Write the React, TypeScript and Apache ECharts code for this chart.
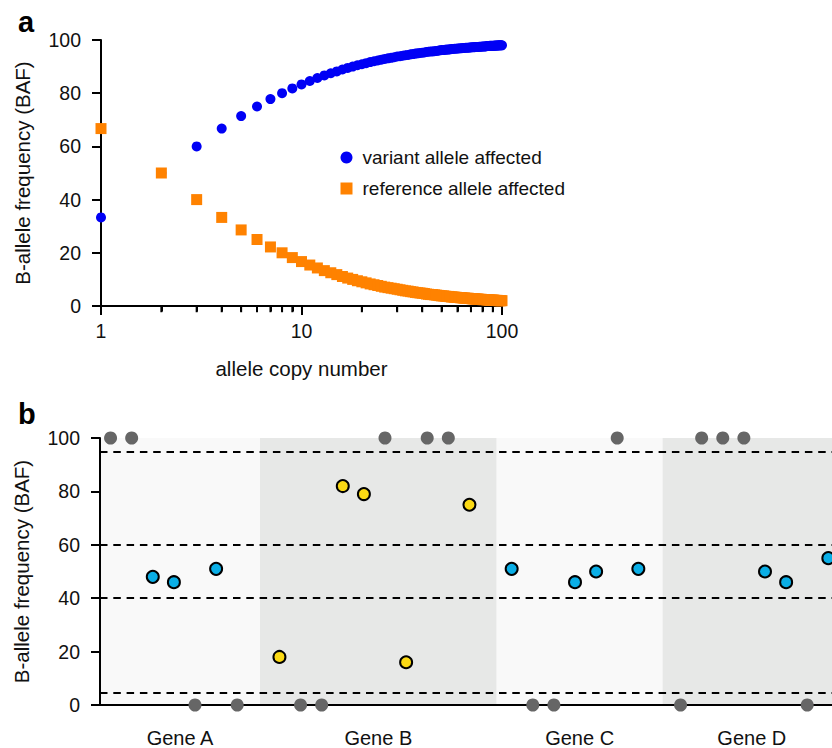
import React, { useEffect, useRef } from "react";
import * as echarts from "echarts";

// ---------- Panel a data ----------
const copyNumbers = [
  1, 2, 3, 4, 5, 6, 7, 8, 9, 10, 11, 12, 13, 14, 15, 16, 17, 18, 19, 20,
  21, 22, 23, 24, 25, 26, 27, 28, 29, 30, 31, 32, 33, 34, 35, 36, 37, 38, 39, 40,
  41, 42, 43, 44, 45, 46, 47, 48, 49, 50, 51, 52, 53, 54, 55, 56, 57, 58, 59, 60,
  61, 62, 63, 64, 65, 66, 67, 68, 69, 70, 71, 72, 73, 74, 75, 76, 77, 78, 79, 80,
  81, 82, 83, 84, 85, 86, 87, 88, 89, 90, 91, 92, 93, 94, 95, 96, 97, 98, 99, 100,
];
const variantBAF = [
  33.3, 50.0, 60.0, 66.7, 71.4, 75.0, 77.8, 80.0, 81.8, 83.3,
  84.6, 85.7, 86.7, 87.5, 88.2, 88.9, 89.5, 90.0, 90.5, 90.9,
  91.3, 91.7, 92.0, 92.3, 92.6, 92.9, 93.1, 93.3, 93.5, 93.8,
  93.9, 94.1, 94.3, 94.4, 94.6, 94.7, 94.9, 95.0, 95.1, 95.2,
  95.3, 95.5, 95.6, 95.7, 95.7, 95.8, 95.9, 96.0, 96.1, 96.2,
  96.2, 96.3, 96.4, 96.4, 96.5, 96.6, 96.6, 96.7, 96.7, 96.8,
  96.8, 96.9, 96.9, 97.0, 97.0, 97.1, 97.1, 97.1, 97.2, 97.2,
  97.3, 97.3, 97.3, 97.4, 97.4, 97.4, 97.5, 97.5, 97.5, 97.6,
  97.6, 97.6, 97.6, 97.7, 97.7, 97.7, 97.8, 97.8, 97.8, 97.8,
  97.8, 97.9, 97.9, 97.9, 97.9, 98.0, 98.0, 98.0, 98.0, 98.0,
];
const referenceBAF = [
  66.7, 50.0, 40.0, 33.3, 28.6, 25.0, 22.2, 20.0, 18.2, 16.7,
  15.4, 14.3, 13.3, 12.5, 11.8, 11.1, 10.5, 10.0, 9.5, 9.1,
  8.7, 8.3, 8.0, 7.7, 7.4, 7.1, 6.9, 6.7, 6.5, 6.3,
  6.1, 5.9, 5.7, 5.6, 5.4, 5.3, 5.1, 5.0, 4.9, 4.8,
  4.7, 4.5, 4.4, 4.3, 4.3, 4.2, 4.1, 4.0, 3.9, 3.8,
  3.8, 3.7, 3.6, 3.6, 3.5, 3.4, 3.4, 3.3, 3.3, 3.2,
  3.2, 3.1, 3.1, 3.0, 3.0, 2.9, 2.9, 2.9, 2.8, 2.8,
  2.7, 2.7, 2.7, 2.6, 2.6, 2.6, 2.5, 2.5, 2.5, 2.4,
  2.4, 2.4, 2.4, 2.3, 2.3, 2.3, 2.2, 2.2, 2.2, 2.2,
  2.2, 2.1, 2.1, 2.1, 2.1, 2.0, 2.0, 2.0, 2.0, 2.0,
];
const seriesNamesA = ["variant allele affected", "reference allele affected"];
const minorTickValues = [2, 3, 4, 5, 6, 7, 8, 9, 20, 30, 40, 50, 60, 70, 80, 90];

// ---------- Panel b data ----------
const geneNames = ["Gene A", "Gene B", "Gene C", "Gene D"];
const geneStarts = [-0.5, 7.08, 18.29, 26.15];
const geneEnds = [7.08, 18.29, 26.15, 34.6];
const thresholds = [95, 60, 40, 4.5];

const hetSlots = [2, 3, 5, 19, 22, 23, 25, 31, 32, 34];
const hetBAF = [48, 46, 51, 51, 46, 50, 51, 50, 46, 55];
const imbalancedSlots = [8, 11, 12, 14, 17];
const imbalancedBAF = [18, 82, 79, 16, 75];
const homSlots = [0, 1, 13, 15, 16, 24, 28, 29, 30, 4, 6, 9, 10, 20, 21, 27, 33];
const homBAF = [100, 100, 100, 100, 100, 100, 100, 100, 100, 0, 0, 0, 0, 0, 0, 0, 0];

const FONT = "'Liberation Sans', Arial, Helvetica, sans-serif";
const PANEL_A_H = 390;

const axisLine = () => ({ show: true, onZero: false, lineStyle: { color: "#000", width: 2 } });
const axisTick = () => ({ show: true, length: 9, lineStyle: { color: "#000", width: 2 } });
const axisLabel = (margin: number) => ({ color: "#111", fontSize: 19.5, fontFamily: FONT, margin });
const nameStyle = () => ({ color: "#111", fontSize: 20.5, fontFamily: FONT });

function optionA(): any {
  return {
    animation: false,
    textStyle: { fontFamily: FONT },
    title: { text: "a", left: 13, top: 2, textStyle: { fontSize: 29, fontWeight: "bold", color: "#000", fontFamily: FONT } },
    legend: {
      orient: "vertical",
      left: 335.5,
      top: 143,
      itemWidth: 12,
      itemHeight: 12,
      itemGap: 12,
      data: [
        { name: seriesNamesA[0], icon: "circle" },
        { name: seriesNamesA[1], icon: "rect" },
      ],
      textStyle: { fontSize: 19, color: "#111", fontFamily: FONT, padding: [0, 0, 0, 5] },
    },
    grid: { left: 101, top: 40, width: 401, height: 266, outerBoundsMode: "none" },
    xAxis: {
      type: "log",
      min: 1,
      max: 100,
      name: "allele copy number",
      nameLocation: "middle",
      nameGap: 52,
      nameTextStyle: nameStyle(),
      axisLine: axisLine(),
      axisTick: axisTick(),
      minorTick: { show: true, splitNumber: 9, length: 5.5, lineStyle: { color: "#000", width: 2 } },
      axisLabel: axisLabel(15),
      splitLine: { show: false },
      minorSplitLine: { show: false },
    },
    yAxis: {
      type: "value",
      min: 0,
      max: 100,
      interval: 20,
      name: "B-allele frequency (BAF)",
      nameLocation: "middle",
      nameGap: 68,
      nameTextStyle: nameStyle(),
      axisLine: axisLine(),
      axisTick: axisTick(),
      axisLabel: axisLabel(20),
      splitLine: { show: false },
    },
    series: [
      {
        name: "minor ticks",
        type: "scatter",
        silent: true,
        clip: false,
        symbol: "rect",
        symbolSize: [2, 5.5],
        symbolOffset: [0, 3.5],
        itemStyle: { color: "#000", opacity: 1 },
        data: minorTickValues.map((v) => [v, 0]),
      },
      {
        name: seriesNamesA[0],
        type: "scatter",
        symbol: "circle",
        symbolSize: 10,
        clip: false,
        itemStyle: { color: "#0000f5", opacity: 1 },
        data: copyNumbers.map((c, i) => [c, variantBAF[i]]),
        z: 4,
      },
      {
        name: seriesNamesA[1],
        type: "scatter",
        symbol: "rect",
        symbolSize: 11,
        clip: false,
        itemStyle: { color: "#ff8200", opacity: 1 },
        data: copyNumbers.map((c, i) => [c, referenceBAF[i]]),
        z: 5,
      },
    ],
  };
}

function optionB(): any {
  return {
    animation: false,
    textStyle: { fontFamily: FONT },
    title: { text: "b", left: 13, top: 394 - PANEL_A_H, textStyle: { fontSize: 29, fontWeight: "bold", color: "#000", fontFamily: FONT } },
    grid: { left: 100, top: 438 - PANEL_A_H, width: 741, height: 267, outerBoundsMode: "none" },
    xAxis: {
      type: "value",
      min: -0.5,
      max: 34.6,
      axisLine: axisLine(),
      axisTick: { show: false },
      axisLabel: { show: false },
      splitLine: { show: false },
      z: 3,
    },
    yAxis: {
      type: "value",
      min: 0,
      max: 100,
      interval: 20,
      name: "B-allele frequency (BAF)",
      nameLocation: "middle",
      nameGap: 68,
      nameTextStyle: nameStyle(),
      axisLine: axisLine(),
      axisTick: axisTick(),
      axisLabel: axisLabel(20),
      splitLine: { show: false },
      z: 3,
    },
    series: [
      {
        name: "genes",
        type: "scatter",
        data: [],
        z: 1,
        silent: true,
        markArea: {
          silent: true,
          data: geneNames.map((g, i) => [
            {
              name: g,
              xAxis: geneStarts[i],
              itemStyle: { color: i % 2 === 0 ? "#f9f9f9" : "#e7e8e7" },
            },
            { xAxis: geneEnds[i] },
          ]),
          label: {
            show: true,
            position: "bottom",
            distance: 23,
            fontSize: 20,
            color: "#111",
            fontFamily: FONT,
          },
        },
      },
      {
        name: "thresholds",
        type: "scatter",
        data: [],
        z: 2,
        silent: true,
        markLine: {
          silent: true,
          symbol: ["none", "none"],
          label: { show: false },
          lineStyle: { color: "#000", width: 2.2, type: [7.5, 5.8], opacity: 1 },
          data: thresholds.map((t) => ({ yAxis: t })),
        },
      },
      {
        name: "homozygous",
        type: "scatter",
        symbolSize: 13,
        clip: false,
        itemStyle: { color: "#666666", opacity: 1 },
        data: homSlots.map((s, i) => [s, homBAF[i]]),
        z: 5,
      },
      {
        name: "heterozygous",
        type: "scatter",
        symbolSize: 12,
        clip: false,
        itemStyle: { color: "#0aaee6", borderColor: "#000", borderWidth: 2, opacity: 1 },
        data: hetSlots.map((s, i) => [s, hetBAF[i]]),
        z: 5,
      },
      {
        name: "imbalanced",
        type: "scatter",
        symbolSize: 12,
        clip: false,
        itemStyle: { color: "#fbd914", borderColor: "#000", borderWidth: 2, opacity: 1 },
        data: imbalancedSlots.map((s, i) => [s, imbalancedBAF[i]]),
        z: 5,
      },
    ],
  };
}

export default function App() {
  const refA = useRef<HTMLDivElement>(null);
  const refB = useRef<HTMLDivElement>(null);

  useEffect(() => {
    if (!refA.current || !refB.current) return;
    const chartA = echarts.init(refA.current, null, { renderer: "svg" });
    const chartB = echarts.init(refB.current, null, { renderer: "svg" });
    chartA.setOption(optionA());
    chartB.setOption(optionB());
    return () => {
      chartA.dispose();
      chartB.dispose();
    };
  }, []);

  return (
    <div style={{ position: "fixed", left: 0, top: 0, width: 832, height: 748, background: "#fff", overflow: "hidden" }}>
      <div ref={refA} style={{ position: "absolute", left: 0, top: 0, width: 832, height: PANEL_A_H }} />
      <div ref={refB} style={{ position: "absolute", left: 0, top: PANEL_A_H, width: 832, height: 748 - PANEL_A_H }} />
    </div>
  );
}
